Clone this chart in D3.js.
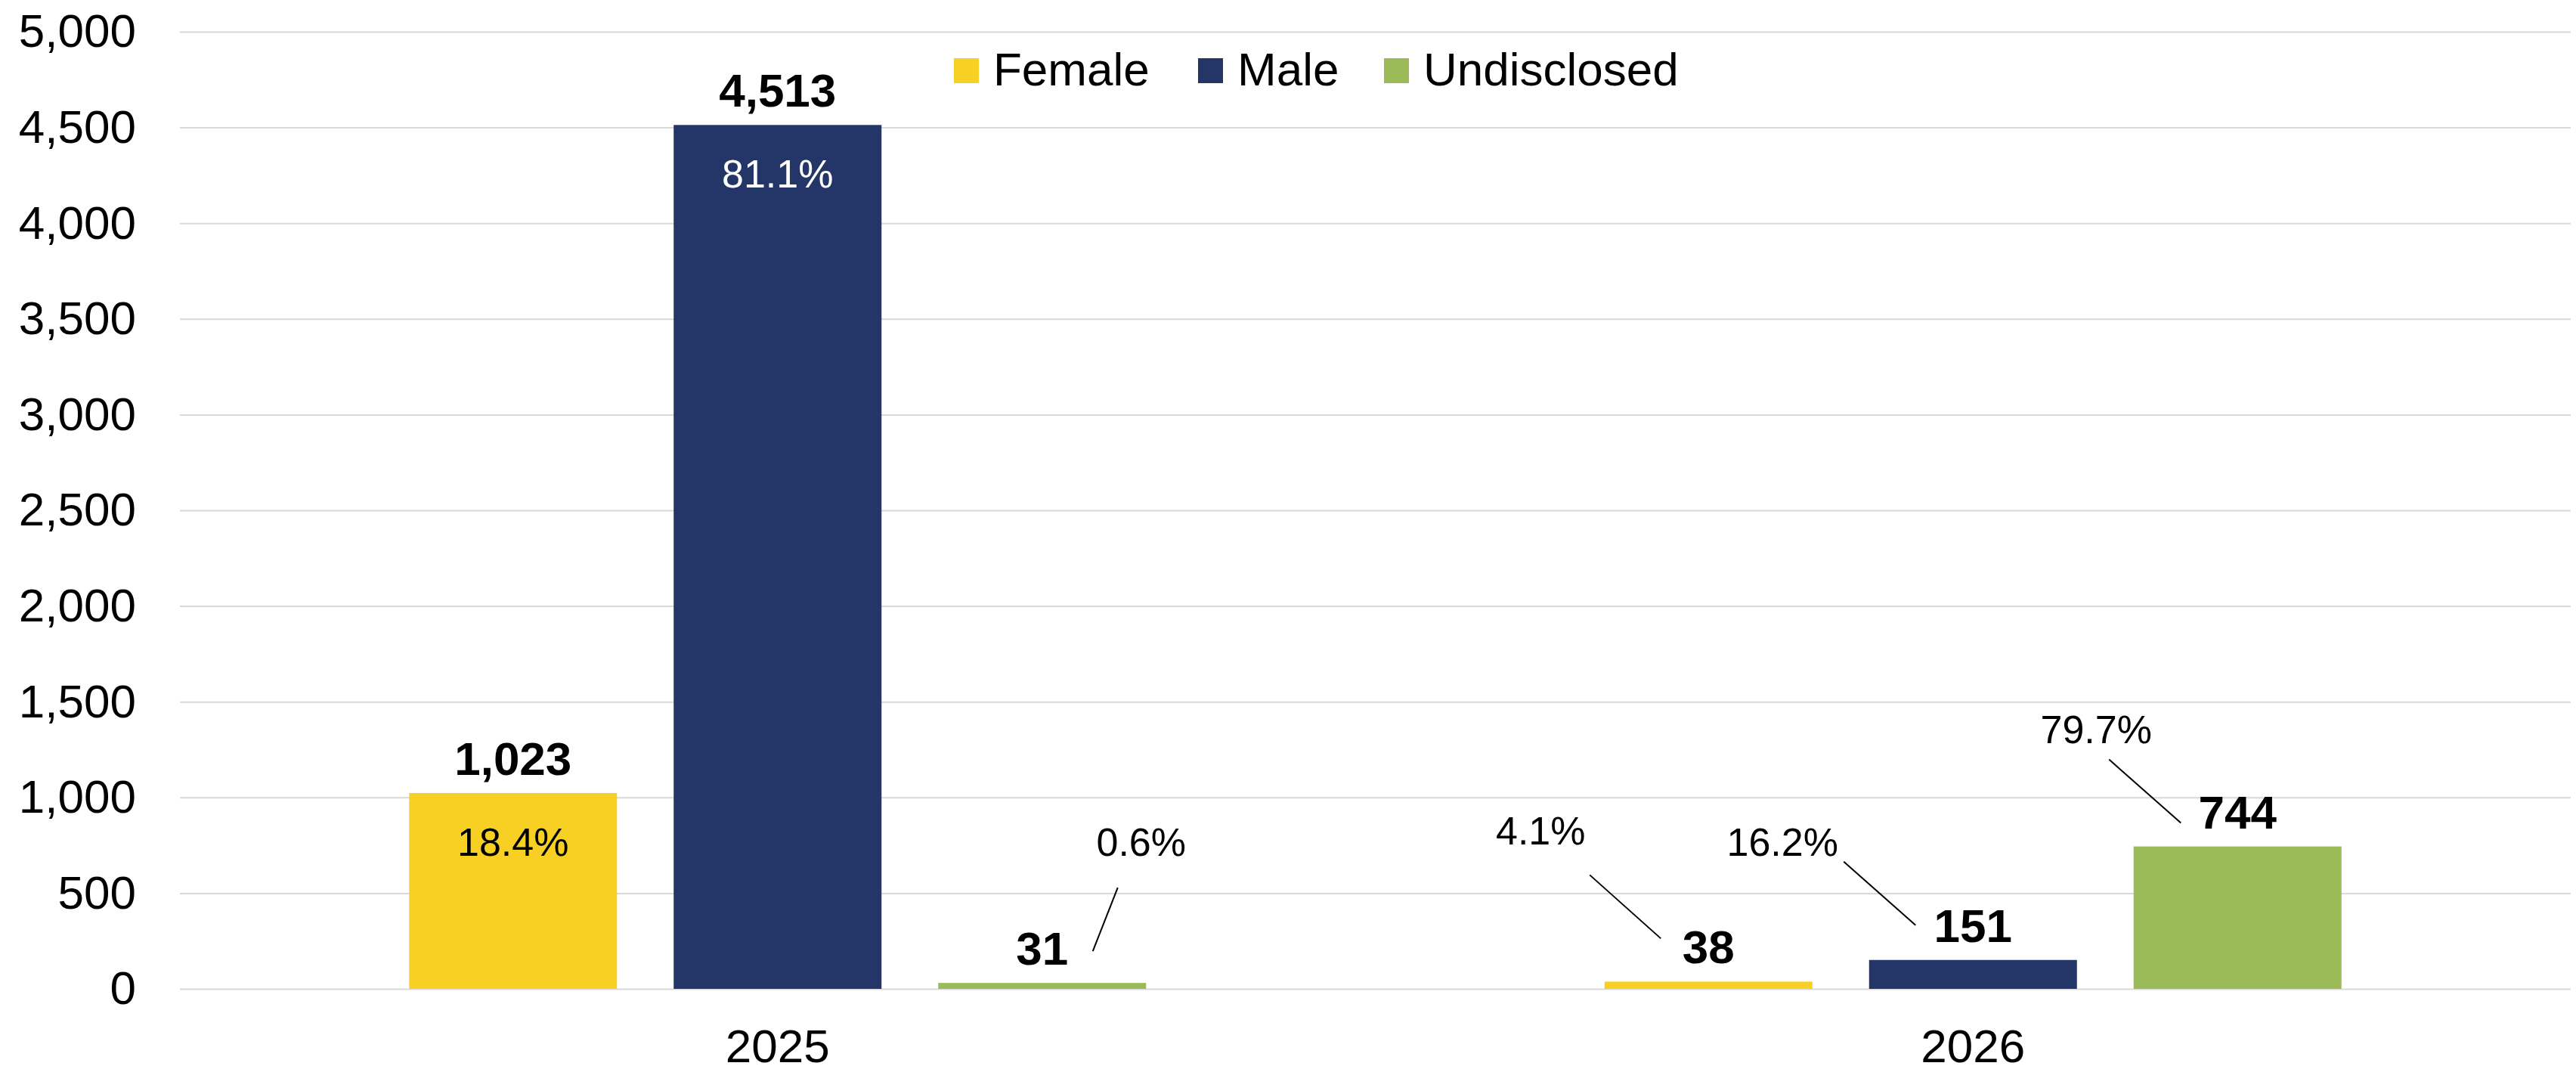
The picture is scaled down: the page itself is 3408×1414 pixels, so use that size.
<!DOCTYPE html>
<html lang="en">
<head>
    <meta charset="UTF-8">
    <title>Gender split 2025 / 2026</title>
    <script src="https://d3js.org/d3.v7.min.js"></script>
    <style>
        body { margin: 0; background: #fff; }
        svg { display: block; font-family: "Liberation Sans", Arial, sans-serif; }
        .tick line { stroke: #d9d9d9; stroke-width: 2px; }
        .tick text { fill: #000; font-size: 62px; }
        .val { font-size: 62px; font-weight: bold; fill: #000; }
        .pct { font-size: 52px; }
        .legend text { font-size: 62px; fill: #000; }
    </style>
</head>
<body>
<div id="chart"></div>
<script>
    // data
    const categories = ["2025", "2026"];
    const seriesNames = ["Female", "Male", "Undisclosed"];
    const female = [1023, 38];
    const male = [4513, 151];
    const undisclosed = [31, 744];
    const femalePct = [18.4, 4.1];
    const malePct = [81.1, 16.2];
    const undisclosedPct = [0.6, 79.7];
    const yTicks = [0, 500, 1000, 1500, 2000, 2500, 3000, 3500, 4000, 4500, 5000];

    const colors = ["#f8d024", "#243668", "#9bbb59"];

    // where each percent label sits: inside the bar, or out to the side with a leader line
    // offsets are relative to bar centre / bar top
    const pctPlacement = {
        "2025|Female": { inside: true },
        "2025|Male": { inside: true, white: true },
        "2025|Undisclosed": { dx: 131, dy: -168, line: [100, -126, 67, -42] },
        "2026|Female": { dx: -222, dy: -181, line: [-157, -141, -63, -57] },
        "2026|Male": { dx: -252, dy: -138, line: [-171, -130, -76, -46] },
        "2026|Undisclosed": { dx: -187, dy: -137, line: [-170, -115, -75, -31] }
    };

    const values = [female, male, undisclosed];
    const pcts = [femalePct, malePct, undisclosedPct];
    const rows = [];
    categories.forEach((c, ci) => {
        seriesNames.forEach((s, si) => {
            rows.push({ cat: c, series: s, value: values[si][ci], pct: pcts[si][ci] });
        });
    });

    const W = 3408, H = 1414;
    const plotLeft = 238, plotRight = 3401, plotTop = 42, plotBottom = 1308;

    const svg = d3.select("#chart").append("svg")
        .attr("width", W)
        .attr("height", H);

    const x0 = d3.scaleBand()
        .domain(categories)
        .range([plotLeft, plotRight])
        .paddingInner(0.3835)
        .paddingOuter(0.3835 / 2);

    const x1 = d3.scaleBand()
        .domain(seriesNames)
        .range([0, x0.bandwidth()])
        .paddingInner(75 / 350);

    const y = d3.scaleLinear()
        .domain([0, 5000])
        .range([plotBottom, plotTop]);

    const color = d3.scaleOrdinal().domain(seriesNames).range(colors);

    // y axis + gridlines
    svg.append("g")
        .attr("transform", `translate(${plotLeft},0)`)
        .call(d3.axisLeft(y).tickValues(yTicks).tickFormat(d3.format(",")).tickSize(-(plotRight - plotLeft)).tickPadding(58))
        .call(g => g.select(".domain").remove());

    // x axis labels
    svg.append("g")
        .attr("transform", `translate(0,${plotBottom})`)
        .call(d3.axisBottom(x0).tickSize(0).tickPadding(53))
        .call(g => g.select(".domain").remove());

    // bars
    svg.append("g").selectAll("rect")
        .data(rows)
        .join("rect")
        .attr("x", d => x0(d.cat) + x1(d.series))
        .attr("y", d => y(d.value))
        .attr("width", x1.bandwidth())
        .attr("height", d => y(0) - y(d.value))
        .attr("fill", d => color(d.series));

    const cx = d => x0(d.cat) + x1(d.series) + x1.bandwidth() / 2;

    // value labels
    svg.append("g").selectAll("text")
        .data(rows)
        .join("text")
        .attr("class", "val")
        .attr("text-anchor", "middle")
        .attr("x", cx)
        .attr("y", d => y(d.value) - 24)
        .text(d => d3.format(",")(d.value));

    // percent labels
    const pg = svg.append("g");
    rows.forEach(d => {
        const p = pctPlacement[d.cat + "|" + d.series];
        const bx = cx(d), by = y(d.value);
        if (p.inside) {
            pg.append("text")
                .attr("class", "pct")
                .attr("text-anchor", "middle")
                .attr("x", bx)
                .attr("y", by + 83)
                .attr("fill", p.white ? "#fff" : "#000")
                .text(d.pct.toFixed(1) + "%");
        } else {
            pg.append("text")
                .attr("class", "pct")
                .attr("text-anchor", "middle")
                .attr("x", bx + p.dx)
                .attr("y", by + p.dy)
                .attr("fill", "#000")
                .text(d.pct.toFixed(1) + "%");
            pg.append("line")
                .attr("x1", bx + p.line[0])
                .attr("y1", by + p.line[1])
                .attr("x2", bx + p.line[2])
                .attr("y2", by + p.line[3])
                .attr("stroke", "#000")
                .attr("stroke-width", 2);
        }
    });

    // legend
    const legendX = [1262, 1585, 1831];
    const legend = svg.append("g").attr("class", "legend")
        .selectAll("g")
        .data(seriesNames)
        .join("g")
        .attr("transform", (d, i) => `translate(${legendX[i]},77)`);
    legend.append("rect")
        .attr("width", 33)
        .attr("height", 33)
        .attr("fill", d => color(d));
    legend.append("text")
        .attr("x", 52)
        .attr("y", 36)
        .text(d => d);
</script>
</body>
</html>
